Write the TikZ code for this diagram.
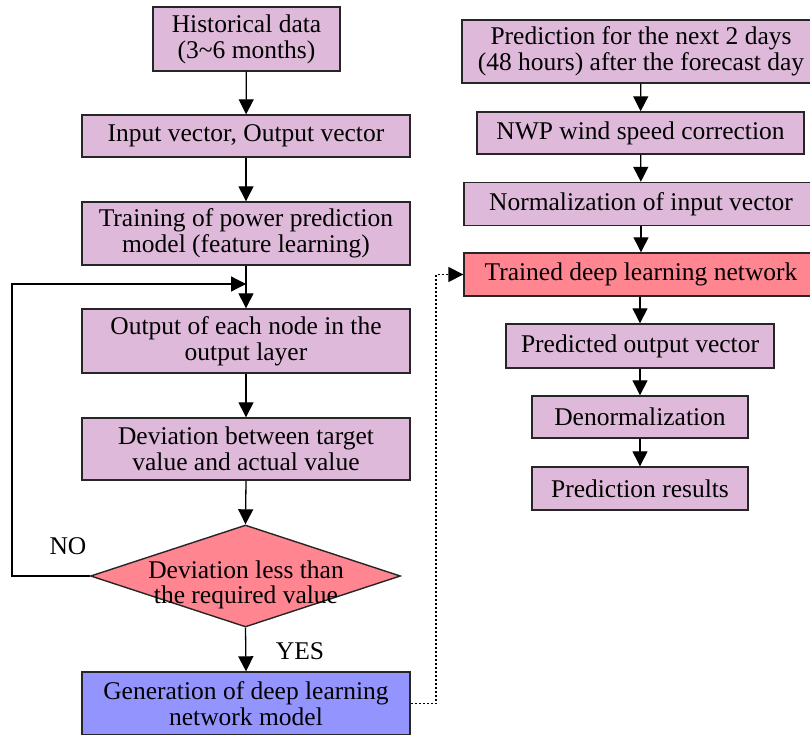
\documentclass[tikz,border=0pt]{standalone}
\usepackage{fontspec}
\setmainfont{Liberation Serif}
\usetikzlibrary{shapes.geometric,arrows.meta}
\definecolor{lilac}{HTML}{DEB9DA}
\definecolor{salmon}{HTML}{FF8591}
\definecolor{bluish}{HTML}{9494FF}
\begin{document}
\begin{tikzpicture}[x=1pt,y=-1pt,
  box/.style={draw=black!85, line width=1.4pt, fill=lilac, align=center, inner sep=0pt,
    font=\fontsize{25.5}{26}\selectfont},
  arr/.style={line width=1.3pt, -{Triangle[length=15pt,width=15pt]}},
  lbl/.style={font=\fontsize{25.5}{25}\selectfont, inner sep=0pt}]
\useasboundingbox (0,0) rectangle (810,735);
% left column
\node[box, minimum width=187pt, minimum height=64pt] (b1) at (246.5,39) {Historical data\\(3\textasciitilde6 months)};
\node[box, minimum width=328pt, minimum height=42pt] (b2) at (246,136) {Input vector, Output vector};
\node[box, minimum width=328pt, minimum height=63pt] (b3) at (246,233.5) {Training of power prediction\\model (feature learning)};
\node[box, minimum width=328pt, minimum height=64pt] (b4) at (246,341) {Output of each node in the\\output layer};
\node[box, minimum width=328pt, minimum height=62pt] (b5) at (246,449) {Deviation between target\\value and actual value};
\node[draw=black!85, line width=1.4pt, fill=salmon, shape=diamond, inner sep=0pt,
  minimum width=310pt, minimum height=102pt] (dia) at (245.5,576) {};
\node[lbl, align=center] (diat) at (246,585) {Deviation less than\\the required value};
\node[box, fill=bluish, minimum width=328pt, minimum height=63pt] (b6) at (246,703.5) {Generation of deep learning\\network model};
% right column
\node[box, minimum width=358pt, minimum height=63pt] (r1) at (641,51.5) {Prediction for the next 2 days\\(48 hours) after the forecast day};
\node[box, minimum width=327pt, minimum height=42pt] (r2) at (640.5,133) {NWP wind speed correction};
\node[box, minimum width=354pt, minimum height=43pt] (r3) at (641,204) {Normalization of input vector};
\node[box, fill=salmon, minimum width=354pt, minimum height=43pt] (r4) at (641,274.5) {Trained deep learning network};
\node[box, minimum width=268pt, minimum height=44pt] (r5) at (640,346) {Predicted output vector};
\node[box, minimum width=216pt, minimum height=42pt] (r6) at (640,417) {Denormalization};
\node[box, minimum width=216pt, minimum height=43pt] (r7) at (640,488.5) {Prediction results};
% labels
\node[lbl] (no) at (68,546) {NO};
\node[lbl] (yes) at (300,651) {YES};
% connectors
\coordinate (join) at (246,284);
\coordinate (fb1) at (12,576);
\coordinate (fb2) at (12,284);
\coordinate (d1) at (436,703.5);
\coordinate (d2) at (436,274.5);
\draw[arr] (b1) -- (b2);
\draw[arr] (b2) -- (b3);
\draw[arr] (b3.south) -- (b4.north);
\draw[arr] (b4) -- (b5);
\draw[arr] (b5.south) -- (dia.north);
\draw[arr] (dia.south) -- (b6.north);
\draw[arr] (dia.west) -- (fb1) -- (fb2) -- (join);
\draw[line width=1.6pt, dash pattern=on 2pt off 2pt, -{Triangle[length=15pt,width=15pt]}] (b6.east) -- (d1) -- (d2) -- (r4.west);
\draw[arr] (r1) -- (r2);
\draw[arr] (r2) -- (r3);
\draw[arr] (r3) -- (r4);
\draw[arr] (r4.south -| r5.north) -- (r5.north);
\draw[arr] (r5) -- (r6);
\draw[arr] (r6) -- (r7);
\end{tikzpicture}
\end{document}
